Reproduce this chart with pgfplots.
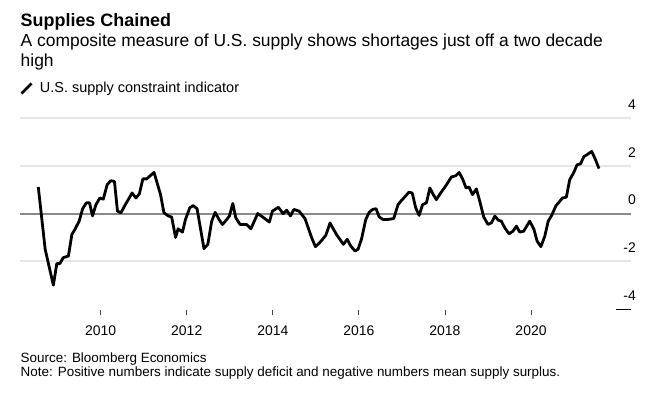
\documentclass[border=0pt]{standalone}
\usepackage{pgfplots}
\pgfplotsset{compat=1.18}
\usepackage{fontspec}
\setmainfont{Liberation Sans}
\definecolor{zeroc}{HTML}{8A8A8A}
\definecolor{gridc}{HTML}{E6E6E6}
\definecolor{tickc}{HTML}{444444}
\begin{document}
\begin{tikzpicture}[x=1bp,y=1bp]
\path[use as bounding box] (0,0) rectangle (660,392);
\node[anchor=base west, inner sep=0pt, font=\bfseries\fontsize{18}{21}\selectfont] at (20.5,366) {Supplies Chained};
\node[anchor=base west, inner sep=0pt, font=\fontsize{17.5}{20}\selectfont] at (20.5,345.3) {A composite measure of U.S. supply shows shortages just off a two decade};
\node[anchor=base west, inner sep=0pt, font=\fontsize{17.5}{20}\selectfont] at (20.5,325.3) {high};
\node[anchor=base west, inner sep=0pt, font=\fontsize{13.5}{15}\selectfont] at (20.5,30) {Source: Bloomberg Economics};
\node[anchor=base west, inner sep=0pt, font=\fontsize{13.5}{15}\selectfont] at (20.5,16) {Note: Positive numbers indicate supply deficit and negative numbers mean supply surplus.};
\begin{axis}[
  at={(20bp,83bp)}, anchor=south west,
  scale only axis, width=611bp, height=191bp,
  xmin=2008.125, xmax=2022.324, ymin=-4, ymax=4,
  axis line style={draw=none},
  clip=false,
  xtick={2010,2012,2014,2016,2018,2020},
  xticklabels={2010,2012,2014,2016,2018,2020},
  xtick pos=bottom, tick align=outside,
  major tick length=5bp,
  x tick style={tickc, line width=0.8bp, yshift=-1bp},
  xticklabel style={font=\fontsize{14}{16}\selectfont, anchor=base, yshift=-21.5bp},
  ytick={-4,-2,0,2,4}, yticklabels={-4,-2,0,2,4},
  ytick pos=right, yticklabel pos=right,
  y tick style={draw=none},
  yticklabel style={font=\fontsize{14}{16}\selectfont, anchor=south east, inner sep=0pt, yshift=8.5bp},
  legend style={at={(0,1.155)}, anchor=west, draw=none, fill=none, inner sep=0pt,
    font=\fontsize{14.5}{16}\selectfont, legend cell align=left,
    /tikz/every odd column/.append style={column sep=5bp}},
  legend image code/.code={\draw[line width=2.8bp, line cap=butt] (0bp,-5bp) -- (10bp,5bp);},
]
\draw[gridc, line width=2bp] (axis cs:2008.125,4) -- (axis cs:2022.324,4);
\draw[gridc, line width=2bp] (axis cs:2008.125,2) -- (axis cs:2022.324,2);
\draw[gridc, line width=2bp] (axis cs:2008.125,-2) -- (axis cs:2022.324,-2);
\draw[zeroc, line width=2bp] (axis cs:2008.125,0) -- (axis cs:2022.324,0);
\draw[black, line width=1bp] (axis cs:2021.98,-4) -- (axis cs:2022.324,-4);
\addplot[black, line width=2.8bp, line join=round] coordinates {
(2008.55,1.11) (2008.71,-1.5) (2008.90,-3.0) (2008.98,-2.1) (2009.05,-2.1)
(2009.13,-1.85) (2009.25,-1.78) (2009.33,-0.88) (2009.40,-0.67) (2009.50,-0.32)
(2009.58,0.2) (2009.67,0.45) (2009.74,0.45) (2009.81,-0.1) (2009.89,0.37)
(2009.98,0.65) (2010.06,0.6) (2010.15,1.2) (2010.23,1.37) (2010.32,1.35)
(2010.39,0.1) (2010.47,0.03) (2010.56,0.33) (2010.73,0.86) (2010.82,0.65)
(2010.90,0.83) (2010.98,1.45) (2011.07,1.45) (2011.15,1.58) (2011.24,1.72)
(2011.39,0.8) (2011.47,0.03) (2011.57,-0.1) (2011.65,-0.15) (2011.74,-1.0)
(2011.80,-0.64) (2011.90,-0.78) (2011.97,-0.25) (2012.07,0.24) (2012.15,0.33)
(2012.24,0.2) (2012.40,-1.47) (2012.49,-1.29) (2012.58,-0.32) (2012.66,0.05)
(2012.75,-0.25) (2012.83,-0.46) (2012.93,-0.25) (2012.99,-0.11) (2013.07,0.42)
(2013.14,-0.18) (2013.24,-0.46) (2013.39,-0.46) (2013.49,-0.64) (2013.65,0)
(2013.82,-0.22) (2013.92,-0.36) (2013.99,0.1) (2014.13,0.26) (2014.24,-0.01)
(2014.32,0.14) (2014.41,-0.1) (2014.49,0.17) (2014.61,0.1) (2014.75,-0.22)
(2014.90,-1.0) (2014.99,-1.39) (2015.09,-1.22) (2015.23,-0.92) (2015.33,-0.4)
(2015.48,-0.88) (2015.64,-1.29) (2015.73,-1.08) (2015.81,-1.36) (2015.91,-1.57)
(2015.98,-1.5) (2016.06,-1.08) (2016.16,-0.25) (2016.24,0.05) (2016.32,0.17)
(2016.40,0.2) (2016.47,-0.14) (2016.56,-0.25) (2016.68,-0.25) (2016.81,-0.21)
(2016.91,0.37) (2016.99,0.55) (2017.07,0.7) (2017.16,0.89) (2017.24,0.86)
(2017.32,0.24) (2017.40,-0.08) (2017.48,0.37) (2017.57,0.45) (2017.65,1.07)
(2017.73,0.79) (2017.80,0.58) (2017.90,0.86) (2018.00,1.11) (2018.07,1.3)
(2018.15,1.53) (2018.25,1.58) (2018.33,1.72) (2018.41,1.45) (2018.49,1.07)
(2018.56,1.11) (2018.64,0.79) (2018.73,1.03) (2018.81,0.51) (2018.90,-0.14)
(2019.00,-0.46) (2019.08,-0.39) (2019.16,-0.11) (2019.24,-0.28) (2019.31,-0.32)
(2019.39,-0.6) (2019.49,-0.85) (2019.58,-0.74) (2019.66,-0.53) (2019.74,-0.78)
(2019.83,-0.74) (2019.90,-0.53) (2019.97,-0.32) (2020.07,-0.67) (2020.14,-1.15)
(2020.23,-1.39) (2020.32,-0.95) (2020.40,-0.32) (2020.48,-0.08) (2020.58,0.33)
(2020.65,0.47) (2020.73,0.65) (2020.82,0.68) (2020.90,1.42) (2020.99,1.7)
(2021.07,2.04) (2021.15,2.08) (2021.23,2.39) (2021.30,2.46) (2021.41,2.6)
(2021.50,2.25) (2021.58,1.88)
};
\addlegendentry{U.S. supply constraint indicator}
\end{axis}
\end{tikzpicture}
\end{document}
